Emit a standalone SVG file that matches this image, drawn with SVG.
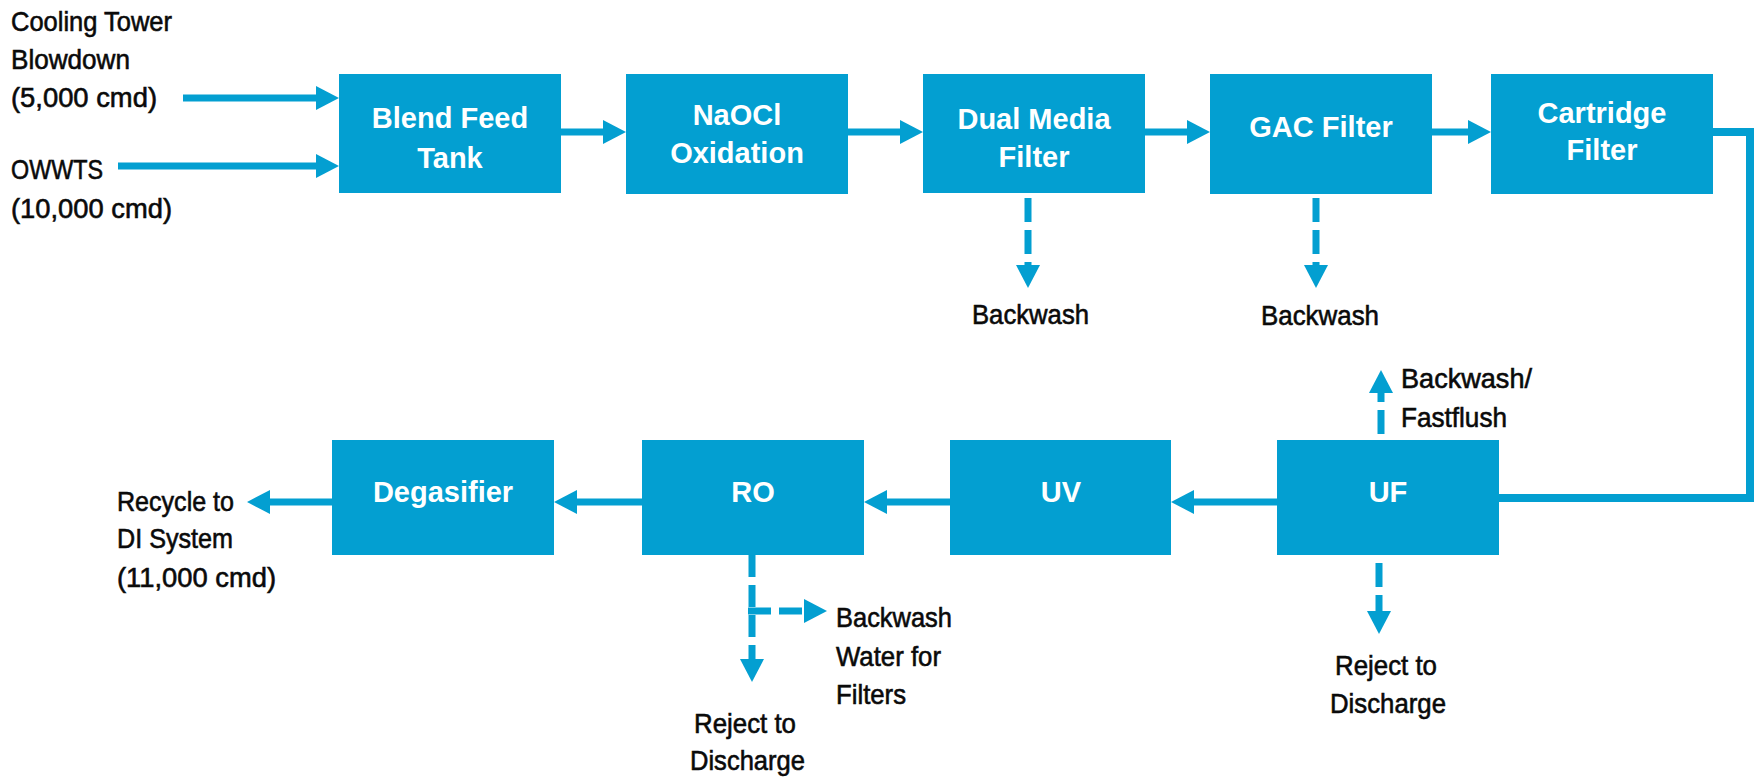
<svg xmlns="http://www.w3.org/2000/svg" width="1758" height="777" viewBox="0 0 1758 777">
<style>
.box{fill:#039fd1}
.nt{font-family:"Liberation Sans",Arial,sans-serif;font-weight:bold;font-size:29px;fill:#fff;text-anchor:middle}
.lb{font-family:"Liberation Sans",Arial,sans-serif;font-size:28px;fill:#0a0a0a;stroke:#0a0a0a;stroke-width:0.6}
.ln{fill:none;stroke:#039fd1;stroke-width:7}
.dl{fill:none;stroke:#039fd1;stroke-width:7}
</style>
<defs>
<marker id="ah" markerUnits="userSpaceOnUse" markerWidth="24" markerHeight="24" refX="0" refY="12" orient="auto" viewBox="0 0 24 24">
<path d="M0,0 L23,12 L0,24 Z" fill="#039fd1"/>
</marker>
</defs>
<rect width="1758" height="777" fill="#fff"/>

<g id="connectors">
<path class="ln" d="M183,98 H316" marker-end="url(#ah)"/>
<path class="ln" d="M118,166 H316" marker-end="url(#ah)"/>
<path class="ln" d="M561,132 H603" marker-end="url(#ah)"/>
<path class="ln" d="M848,132 H900" marker-end="url(#ah)"/>
<path class="ln" d="M1145,132 H1187" marker-end="url(#ah)"/>
<path class="ln" d="M1432,132 H1468" marker-end="url(#ah)"/>
<path class="ln" style="stroke-width:8" d="M1713,132 H1750 V498 H1499"/>
<path class="ln" d="M1277,502 H1194" marker-end="url(#ah)"/>
<path class="ln" d="M950,502 H887" marker-end="url(#ah)"/>
<path class="ln" d="M642,502 H577" marker-end="url(#ah)"/>
<path class="ln" d="M332,502 H270" marker-end="url(#ah)"/>
<path class="dl" stroke-dasharray="24 8" d="M1028,198 V265" marker-end="url(#ah)"/>
<path class="dl" stroke-dasharray="24 8" d="M1316,198 V265" marker-end="url(#ah)"/>
<path class="dl" stroke-dasharray="24 8" d="M1381,434 V393" marker-end="url(#ah)"/>
<path class="dl" stroke-dasharray="24 8" d="M1379,563 V611" marker-end="url(#ah)"/>
<path class="dl" stroke-dasharray="22 8" d="M752,555 V659" marker-end="url(#ah)"/>
<path class="dl" stroke-dasharray="23 8" d="M748,611 H804" marker-end="url(#ah)"/>
</g>

<g id="blend"><rect class="box" x="339" y="74" width="222" height="119"/><text class="nt" x="450" y="128">Blend Feed</text><text class="nt" x="450" y="168">Tank</text></g>
<g id="naocl"><rect class="box" x="626" y="74" width="222" height="120"/><text class="nt" x="737" y="125">NaOCl</text><text class="nt" x="737" y="163">Oxidation</text></g>
<g id="dualmedia"><rect class="box" x="923" y="74" width="222" height="119"/><text class="nt" x="1034" y="129">Dual Media</text><text class="nt" x="1034" y="167">Filter</text></g>
<g id="gac"><rect class="box" x="1210" y="74" width="222" height="120"/><text class="nt" x="1321" y="137">GAC Filter</text></g>
<g id="cartridge"><rect class="box" x="1491" y="74" width="222" height="120"/><text class="nt" x="1602" y="123">Cartridge</text><text class="nt" x="1602" y="160">Filter</text></g>
<g id="uf"><rect class="box" x="1277" y="440" width="222" height="115"/><text class="nt" x="1388" y="502">UF</text></g>
<g id="uv"><rect class="box" x="950" y="440" width="221" height="115"/><text class="nt" x="1061" y="502">UV</text></g>
<g id="ro"><rect class="box" x="642" y="440" width="222" height="115"/><text class="nt" x="753" y="502">RO</text></g>
<g id="degasifier"><rect class="box" x="332" y="440" width="222" height="115"/><text class="nt" x="443" y="502">Degasifier</text></g>

<g id="labels">
<text class="lb" x="11" y="31" textLength="161" lengthAdjust="spacingAndGlyphs">Cooling Tower</text>
<text class="lb" x="11" y="69" textLength="119" lengthAdjust="spacingAndGlyphs">Blowdown</text>
<text class="lb" x="11" y="107" textLength="146" lengthAdjust="spacingAndGlyphs">(5,000 cmd)</text>
<text class="lb" x="11" y="179" textLength="92" lengthAdjust="spacingAndGlyphs">OWWTS</text>
<text class="lb" x="11" y="218" textLength="161" lengthAdjust="spacingAndGlyphs">(10,000 cmd)</text>
<text class="lb" x="972" y="324" textLength="117" lengthAdjust="spacingAndGlyphs">Backwash</text>
<text class="lb" x="1261" y="325" textLength="118" lengthAdjust="spacingAndGlyphs">Backwash</text>
<text class="lb" x="1401" y="388" textLength="131" lengthAdjust="spacingAndGlyphs">Backwash/</text>
<text class="lb" x="1401" y="427" textLength="106" lengthAdjust="spacingAndGlyphs">Fastflush</text>
<text class="lb" x="117" y="511" textLength="117" lengthAdjust="spacingAndGlyphs">Recycle to</text>
<text class="lb" x="117" y="548" textLength="116" lengthAdjust="spacingAndGlyphs">DI System</text>
<text class="lb" x="117" y="587" textLength="159" lengthAdjust="spacingAndGlyphs">(11,000 cmd)</text>
<text class="lb" x="836" y="627" textLength="116" lengthAdjust="spacingAndGlyphs">Backwash</text>
<text class="lb" x="836" y="666" textLength="105" lengthAdjust="spacingAndGlyphs">Water for</text>
<text class="lb" x="836" y="704" textLength="70" lengthAdjust="spacingAndGlyphs">Filters</text>
<text class="lb" x="694" y="733" textLength="102" lengthAdjust="spacingAndGlyphs">Reject to</text>
<text class="lb" x="690" y="770" textLength="115" lengthAdjust="spacingAndGlyphs">Discharge</text>
<text class="lb" x="1335" y="675" textLength="102" lengthAdjust="spacingAndGlyphs">Reject to</text>
<text class="lb" x="1330" y="713" textLength="116" lengthAdjust="spacingAndGlyphs">Discharge</text>
</g>
</svg>
